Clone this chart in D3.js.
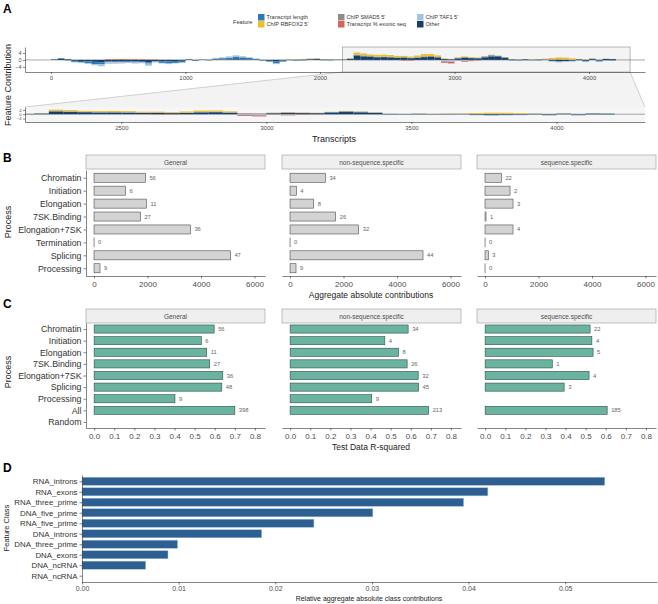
<!DOCTYPE html>
<html>
<head>
<meta charset="utf-8">
<script src="https://cdn.jsdelivr.net/npm/d3@7"></script>
<style>
  body { margin: 0; background: #fff; }
  svg { display: block; }
</style>
</head>
<body>
<svg id="fig" width="658" height="604"></svg>
<script>
// ==============================
// DATA
// ==============================
// Panel A: feature contributions, binned per 50 transcripts
const binSize = 50;
const contribOther = [0.3, 0.8, 0.4, -0.5, -0.6, -0.9, -1.1, -1.3, -0.8, -0.7, -0.9, -0.6, -0.8, -1.0, -1.5, -0.7,
  -0.7, -0.8, -0.6, -0.5, 0.3, -0.3, 0.2, -0.2, 0.3, 0.2, 0.3, 0.4, 0.3, 0.2, 0.1, -0.3, -0.5, -0.9, -0.4,
  0.2, -0.3, 0.3, 0.4, 0.5, 0.3, -0.2, 0.2, 0.2, 0.6, 2.4, 2.0, 1.8, 1.5, 1.6, 1.4, 1.2, 1.3, 1.0,
  1.2, 1.6, 1.8, 1.4, 0.5, 0.4, 0.8, 1.2, 1.0, 0.9, 1.5, 2.0, 1.7, 1.2, 0.3, -0.3, 0.4, -0.2, 0.3, 0.2,
  -0.5, -0.7, -0.6, -0.4, 0.4, -0.5, 0.5, -0.4, 0.6, 0.5];
const contribLength = [0, 0.2, -0.3, -0.6, -0.8, -1.0, -1.3, -1.1, -0.5, -0.6, -0.4, -0.5, -0.6, -0.4, -0.6, -0.3,
  -1.0, -1.2, -1.1, -0.9, 0.2, -0.2, 0.1, 0.2, 0.5, 0.8, 1.0, 1.3, 1.2, 0.9, 0.5, -0.2, -0.5, -1.1, -0.6,
  -0.2, 0.2, -0.3, 0.1, 0.2, -0.2, 0.3, -0.1, 0.1, 0.2, 0.4, 0.4, 0.3, 0.3, 0.2, 0.3, 0.2, 0.2, 0.2,
  0.2, 0.3, 0.3, 0.2, 0.1, 0.1, 0.3, 0.3, 0.2, 0.2, 0.4, 0.6, 0.5, 0.3, -0.3, 0.2, -0.2, 0.2, -0.3, 0.2,
  -0.2, -0.3, -0.2, -0.3, -0.3, -0.4, 0.2, -0.5, -0.3, -0.4];
const contribTAF1 = [0, 0, -0.2, -0.3, -0.3, -0.3, -0.6, -1.2, -0.6, -0.5, -0.6, -0.4, -0.5, -0.5, -1.2, -0.4,
  -0.3, -0.4, -0.3, -0.2, 0.1, 0.1, 0.1, 0.1, 0.3, 0.5, 0.7, 0.9, 0.6, 0.4, 0.2, -0.1, -0.2, -0.4, -0.2,
  0.1, 0.1, 0.1, 0.1, 0.1, 0.1, 0.1, 0.1, 0, -0.1, -0.3, -0.3, -0.4, -0.5, -0.3, -0.4, -0.3, -0.2, -0.3,
  -0.2, -0.2, -0.3, -0.2, -0.8, -1.0, -0.3, -0.5, -0.3, -0.2, -0.1, -0.2, -0.1, -0.1, -0.1, -0.2, -0.1, -0.1, -0.2, -0.1,
  -0.3, -0.4, -0.3, -0.2, -0.2, -0.3, -0.2, -0.3, -0.2, -0.2];
const contribExonic = [0, 0, 0, 0, 0, 0, 0, 0, 0.4, 0.4, 0.5, 0.4, 0.4, 0.3, 0.2, 0.2,
  0, 0, 0, 0, 0, 0, 0, 0, 0, 0, 0, 0, 0, 0, 0, 0, 0, 0, 0,
  0, 0, 0, 0, 0, 0, 0, 0, 0, 0, 0, 0, 0, 0, 0, 0, 0, -0.3, -0.3,
  0, 0, 0, 0, -0.8, -1.0, -0.2, -0.5, -0.4, -0.2, 0, 0, 0, 0, 0, 0, 0, 0, 0, 0,
  0, 0, 0, 0, 0, 0, 0, 0, 0, 0];
const contribSMAD5 = [0, 0, 0, 0, 0, 0, 0, 0, -0.2, -0.2, -0.1, -0.2, -0.1, 0, 0, 0,
  0, 0, 0, 0, 0, 0, 0, 0, 0, 0, 0, 0, 0, 0, 0, 0, 0, 0, 0,
  0, 0, 0, 0, 0, 0, 0, 0, 0, 0, 0.2, 0.2, 0.1, 0.1, 0.1, 0.1, 0.1, 0.1, 0.1,
  0.1, 0.2, 0.2, 0.1, 0, 0, 0.1, 0.1, 0.1, 0.1, 0.1, 0.1, 0.1, 0, 0, 0, 0, 0, 0, 0,
  0.3, 0.4, 0.3, 0.2, 0, 0, 0, 0, 0, 0];
const contribRBFOX2 = [0, 0, 0, 0, 0, 0, 0, 0, 0, 0, 0, 0, 0, 0, 0, 0,
  0, 0, 0, 0, 0, 0, 0, 0, 0.1, 0.1, 0.1, 0.1, 0.1, 0.1, 0.1, 0, 0, 0, 0,
  0.2, 0.1, 0.2, 0.3, 0.2, 0.1, 0.2, 0.1, 0.1, 0.2, 1.2, 1.1, 0.9, 1.0, 1.1, 1.0, 0.8, 0.7, 0.6,
  1.0, 1.2, 1.1, 0.9, 0.2, 0.1, 0.3, 0.4, 0.3, 0.2, 0.2, 0.3, 0.2, 0.2, 0.1, 0.1, 0.1, 0.2, 0.2, 0.3,
  0.8, 1.0, 1.0, 0.7, 0.2, 0.1, 0.2, 0.1, 0.1, 0.1];
const featureNames = ["Transcript length", "ChIP RBFOX2 5'", "ChIP SMAD5 5'", "Transcript % exonic seq", "ChIP TAF1 5'", "Other"];
const topTicks = [0, 1000, 2000, 3000, 4000];
const zoomTicks = [2500, 3000, 3500, 4000];
const zoomLimits = [2168, 4305];

// Panel B: aggregate absolute contributions per process
const processesB = ["Chromatin", "Initiation", "Elongation", "7SK.Binding", "Elongation+7SK", "Termination", "Splicing", "Processing"];
const facets = ["General", "non-sequence.specific", "sequence.specific"];
const aggGeneral = [1921, 1173, 1958, 1734, 3603, 0, 5099, 224];
const aggNonSeq = [1322, 236, 884, 1707, 2567, 0, 4972, 224];
const aggSeq = [612, 935, 1047, 37, 1047, 0, 125, 0];
const nGeneralB = [56, 6, 11, 27, 36, 0, 47, 9];
const nNonSeqB = [34, 4, 8, 26, 32, 0, 44, 9];
const nSeqB = [22, 2, 3, 1, 4, 0, 3, 0];
const aggTicks = [0, 2000, 4000, 6000];

// Panel C: test data R-squared per process
const processesC = ["Chromatin", "Initiation", "Elongation", "7SK.Binding", "Elongation+7SK", "Splicing", "Processing", "All", "Random"];
const r2General = [0.597, 0.533, 0.56, 0.575, 0.64, 0.635, 0.402, 0.70, null];
const r2NonSeq = [0.587, 0.471, 0.539, 0.582, 0.637, 0.639, 0.406, 0.689, null];
const r2Seq = [0.522, 0.531, 0.537, 0.334, 0.517, 0.393, null, 0.607, null];
const nGeneralC = [56, 6, 11, 27, 36, 48, 9, 398, null];
const nNonSeqC = [34, 4, 8, 26, 32, 45, 9, 213, null];
const nSeqC = [22, 4, 5, 1, 4, 3, null, 185, null];
const r2Ticks = [0, 0.1, 0.2, 0.3, 0.4, 0.5, 0.6, 0.7, 0.8];

// Panel D: relative aggregate absolute class contributions
const featureClasses = ["RNA_introns", "RNA_exons", "RNA_three_prime", "DNA_five_prime", "RNA_five_prime", "DNA_introns", "DNA_three_prime", "DNA_exons", "DNA_ncRNA", "RNA_ncRNA"];
const classContrib = [0.0541, 0.0420, 0.0395, 0.0301, 0.0240, 0.0186, 0.0099, 0.0089, 0.0066, 0];
const classTicks = [0, 0.01, 0.02, 0.03, 0.04, 0.05];

// ==============================
// SETUP
// ==============================
const FONT = "'Liberation Sans', Arial, Helvetica, sans-serif";
const svg = d3.select("#fig").attr("font-family", FONT);

const featureColor = {
  tlen: "#2b79b8", rbfox: "#eebd2b", smad5: "#8c8c8c",
  exonic: "#d9605c", taf1: "#9ec4e8", other: "#1c3d63"
};

function styleAxis(g, fs, col) {
  g.attr("font-family", FONT).attr("font-size", fs);
  g.select(".domain").attr("stroke", "#333").attr("stroke-width", 0.6);
  g.selectAll(".tick line").attr("stroke", "#333").attr("stroke-width", 0.6);
  g.selectAll(".tick text").attr("fill", col || "#4d4d4d");
}

function panelLabel(txt, x, y) {
  svg.append("text").attr("x", x).attr("y", y)
    .attr("font-size", 12).attr("font-weight", "bold").attr("fill", "#000").text(txt);
}

function yTitle(txt, x, y, fs) {
  svg.append("text").attr("transform", `translate(${x},${y}) rotate(-90)`)
    .attr("text-anchor", "middle").attr("font-size", fs).attr("fill", "#222").text(txt);
}

function xTitle(txt, x, y, fs) {
  svg.append("text").attr("x", x).attr("y", y)
    .attr("text-anchor", "middle").attr("font-size", fs).attr("fill", "#222").text(txt);
}

// ==============================
// PANEL A
// ==============================
panelLabel("A", 3, 13);

const rows = contribOther.map((v, i) => ({
  start: i * binSize,
  other: v, tlen: contribLength[i], taf1: contribTAF1[i],
  exonic: contribExonic[i], smad5: contribSMAD5[i], rbfox: contribRBFOX2[i]
}));
const stackKeys = ["other", "tlen", "taf1", "exonic", "smad5", "rbfox"];
const stacked = d3.stack().keys(stackKeys).offset(d3.stackOffsetDiverging)(rows);

// legend
const legendKeys = [["tlen", "rbfox"], ["smad5", "exonic"], ["taf1", "other"]];
const legendLabels = { tlen: featureNames[0], rbfox: featureNames[1], smad5: featureNames[2], exonic: featureNames[3], taf1: featureNames[4], other: featureNames[5] };
const legendX = [258, 338, 417];
svg.append("text").attr("x", 233).attr("y", 24).attr("font-size", 5.6).attr("fill", "#333").text("Feature");
legendKeys.forEach((col, ci) => {
  col.forEach((k, ri) => {
    const y0 = 14 + ri * 7;
    svg.append("rect").attr("x", legendX[ci]).attr("y", y0).attr("width", 6.5).attr("height", 6.5)
      .attr("fill", featureColor[k]);
    svg.append("text").attr("x", legendX[ci] + 8.5).attr("y", y0 + 5.2)
      .attr("font-size", 5.6).attr("fill", "#333").text(legendLabels[k]);
  });
});

const stripL = 25, stripR = 645;
const topStrip = { top: 47, bottom: 72 };
const zoomStrip = { top: 107, bottom: 122 };

const xTop = d3.scaleLinear().domain([-193, 4416]).range([stripL, stripR]);
const yTop = d3.scaleLinear().domain([-6.9, 7.4]).range([topStrip.bottom, topStrip.top]);
const xZoom = d3.scaleLinear().domain(zoomLimits).range([stripL, stripR]);
const yZoom = d3.scaleLinear().domain([-7.1, 6.6]).range([zoomStrip.bottom, zoomStrip.top]);

// zoom connector polygon
const boxL = xTop(zoomLimits[0]), boxR = xTop(zoomLimits[1]);
svg.append("path")
  .attr("d", `M${boxL},${topStrip.bottom}L${boxR},${topStrip.bottom}L${stripR},${zoomStrip.top}L${stripL},${zoomStrip.top}Z`)
  .attr("fill", "#f3f3f3");
svg.append("line").attr("x1", boxL).attr("y1", topStrip.bottom).attr("x2", stripL).attr("y2", zoomStrip.top)
  .attr("stroke", "#b5b5b5").attr("stroke-width", 0.6);
svg.append("line").attr("x1", boxR).attr("y1", topStrip.bottom).attr("x2", stripR).attr("y2", zoomStrip.top)
  .attr("stroke", "#b5b5b5").attr("stroke-width", 0.6);

// zoom box in overview strip
svg.append("rect").attr("x", boxL).attr("y", topStrip.top).attr("width", boxR - boxL)
  .attr("height", topStrip.bottom - topStrip.top).attr("fill", "#f4f4f4")
  .attr("stroke", "#8c8c8c").attr("stroke-width", 0.6);

// zoomed strip background
svg.append("rect").attr("x", stripL).attr("y", zoomStrip.top).attr("width", stripR - stripL)
  .attr("height", zoomStrip.bottom - zoomStrip.top).attr("fill", "#f6f6f6");

const defs = svg.append("defs");
defs.append("clipPath").attr("id", "clipZoom").append("rect")
  .attr("x", stripL).attr("y", zoomStrip.top - 3).attr("width", stripR - stripL).attr("height", zoomStrip.bottom - zoomStrip.top + 3);

function drawStrip(g, x, y, strip, tickVals, name, yFont) {
  // zero line
  g.append("line").attr("x1", stripL).attr("x2", stripR).attr("y1", y(0)).attr("y2", y(0))
    .attr("stroke", "#555").attr("stroke-width", 0.5);

  const layer = g.append("g").attr("clip-path", name === "zoom" ? "url(#clipZoom)" : null);
  layer.selectAll("g.layer")
    .data(stacked)
    .join("g")
    .attr("class", "layer")
    .attr("fill", d => featureColor[d.key])
    .selectAll("rect")
    .data(d => d.filter(p => p[1] !== p[0]))
    .join("rect")
    .attr("x", d => x(d.data.start))
    .attr("width", d => Math.max(0.5, x(d.data.start + binSize) - x(d.data.start)))
    .attr("y", d => y(Math.max(d[0], d[1])))
    .attr("height", d => Math.abs(y(d[0]) - y(d[1])));

  const ax = g.append("g").attr("transform", `translate(0,${strip.bottom})`)
    .call(d3.axisBottom(x).tickValues(tickVals).tickFormat(d3.format("d")).tickSize(2).tickSizeOuter(0).tickPadding(2));
  styleAxis(ax, 6);
  const ay = g.append("g").attr("transform", `translate(${stripL},0)`)
    .call(d3.axisLeft(y).tickValues([-4, 0, 4]).tickSize(2).tickSizeOuter(0).tickPadding(1.5));
  styleAxis(ay, yFont);
}

drawStrip(svg.append("g"), xTop, yTop, topStrip, topTicks, "top", 5.5);
drawStrip(svg.append("g"), xZoom, yZoom, zoomStrip, zoomTicks, "zoom", 4.2);

yTitle("Feature Contribution", 11, 85, 9);
xTitle("Transcripts", 334, 142, 9);

// ==============================
// PANELS B + C (faceted bars)
// ==============================
const facetX = [86, 282, 477];
const facetW = 179;

function drawFacets(opt) {
  facets.forEach((name, fi) => {
    const x0 = facetX[fi];
    const g = svg.append("g");

    // strip
    g.append("rect").attr("x", x0).attr("y", opt.stripTop).attr("width", facetW).attr("height", 14)
      .attr("fill", "#efefef").attr("stroke", "#9a9a9a").attr("stroke-width", 0.6);
    g.append("text").attr("x", x0 + facetW / 2).attr("y", opt.stripTop + 9.5)
      .attr("text-anchor", "middle").attr("font-size", 6.5).attr("fill", "#4d4d4d").text(name);

    const x = d3.scaleLinear().domain(opt.xDomain).range([x0, x0 + facetW]);
    const y = d3.scalePoint().domain(opt.cats).range([opt.top, opt.bottom]).padding(opt.pad);
    const bh = y.step() * 0.7;

    const data = opt.cats.map((c, i) => ({ cat: c, v: opt.values[fi][i], n: opt.counts[fi][i] }))
      .filter(d => d.v !== null);

    // zero-valued bars still show their outline as a thin line
    g.selectAll("rect.bar").data(data).join("rect")
      .attr("class", "bar")
      .attr("x", x(0))
      .attr("y", d => y(d.cat) - bh / 2)
      .attr("width", d => Math.max(0.05, x(d.v) - x(0)))
      .attr("height", bh)
      .attr("fill", opt.fill)
      .attr("stroke", opt.stroke)
      .attr("stroke-width", 0.6);

    g.selectAll("text.n").data(data).join("text")
      .attr("class", "n")
      .attr("x", d => x(d.v) + 4)
      .attr("y", d => y(d.cat))
      .attr("dy", "0.35em")
      .attr("font-size", 5.8)
      .attr("fill", "#666")
      .text(d => d.n);

    const ax = g.append("g").attr("transform", `translate(0,${opt.bottom})`)
      .call(d3.axisBottom(x).tickValues(opt.ticks).tickFormat(opt.fmt).tickSize(2.5).tickSizeOuter(0).tickPadding(3));
    styleAxis(ax, 8);

    if (fi === 0) {
      const ay = g.append("g").attr("transform", `translate(${x0},0)`)
        .call(d3.axisLeft(y).tickSize(2.5).tickSizeOuter(0).tickPadding(2));
      styleAxis(ay, 8.8, "#333");
    }
  });
}

panelLabel("B", 3, 162);
drawFacets({
  stripTop: 155, top: 170, bottom: 276, pad: 0.6,
  cats: processesB,
  values: [aggGeneral, aggNonSeq, aggSeq],
  counts: [nGeneralB, nNonSeqB, nSeqB],
  xDomain: [-300, 6393], ticks: aggTicks, fmt: d3.format("d"),
  fill: "#d3d3d3", stroke: "#4d4d4d"
});
yTitle("Process", 11, 222, 9);
xTitle("Aggregate absolute contributions", 371, 298, 8.5);

panelLabel("C", 3, 308);
drawFacets({
  stripTop: 309, top: 323, bottom: 428, pad: 0.52,
  cats: processesC,
  values: [r2General, r2NonSeq, r2Seq],
  counts: [nGeneralC, nNonSeqC, nSeqC],
  xDomain: [-0.0405, 0.85], ticks: r2Ticks, fmt: d3.format(".1f"),
  fill: "#69b3a0", stroke: "#2f4f48"
});
yTitle("Process", 11, 372, 9);
xTitle("Test Data R-squared", 371, 450, 8.5);

// ==============================
// PANEL D
// ==============================
panelLabel("D", 3, 472);
const dLeft = 82, dRight = 657, dTop = 475, dBottom = 582;
const xD = d3.scaleLinear().domain([0, 0.0595]).range([dLeft, dRight]);
const yD = d3.scalePoint().domain(featureClasses).range([dTop, dBottom]).padding(0.6);
const bhD = yD.step() * 0.78;

svg.append("g").selectAll("rect").data(featureClasses.map((c, i) => ({ c, v: classContrib[i] })))
  .join("rect")
  .attr("x", xD(0))
  .attr("y", d => yD(d.c) - bhD / 2)
  .attr("width", d => xD(d.v) - xD(0))
  .attr("height", bhD)
  .attr("fill", "#2d5f93")
  .attr("stroke", d => d.v > 0 ? "#b9cde0" : "none")
  .attr("stroke-width", 0.5);

const axD = svg.append("g").attr("transform", `translate(0,${dBottom})`)
  .call(d3.axisBottom(xD).tickValues(classTicks).tickFormat(d3.format(".2f")).tickSize(2.5).tickSizeOuter(0).tickPadding(2));
styleAxis(axD, 7);
const ayD = svg.append("g").attr("transform", `translate(${dLeft},0)`)
  .call(d3.axisLeft(yD).tickSize(2.5).tickSizeOuter(0).tickPadding(2));
styleAxis(ayD, 7.9, "#333");

yTitle("Feature Class", 9, 528, 7.5);
xTitle("Relative aggregate absolute class contributions", 369, 601, 7);
</script>
</body>
</html>
